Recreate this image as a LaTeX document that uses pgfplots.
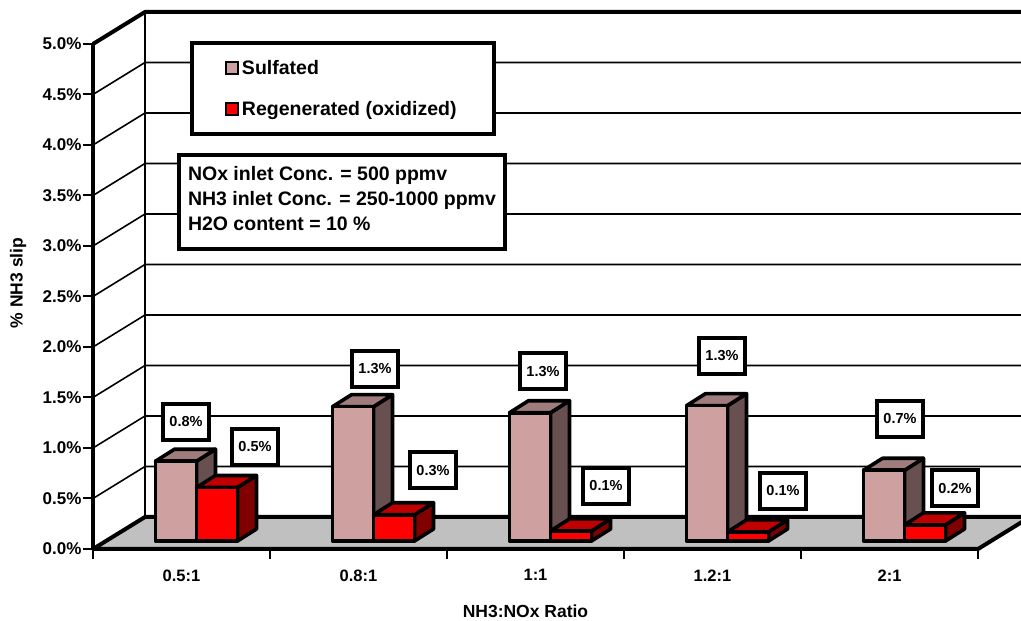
\documentclass[border=0pt]{standalone}
\usepackage{pgfplots}
\pgfplotsset{compat=1.18}
\usepackage{pgfplotstable}
\usepackage{fontspec}
\setmainfont{Liberation Sans}

\definecolor{sulfFront}{RGB}{207,160,160}
\definecolor{sulfTop}{RGB}{160,124,124}
\definecolor{sulfSide}{RGB}{104,80,80}
\definecolor{regFront}{RGB}{255,0,0}
\definecolor{regTop}{RGB}{192,0,0}
\definecolor{regSide}{RGB}{128,0,0}
\definecolor{floorgray}{RGB}{192,192,192}

\newcommand\labelfont{\bfseries\fontsize{14.5}{15}\selectfont}
\newcommand\tickfont{\bfseries\fontsize{17}{18}\selectfont}
\newcommand\boxfont{\bfseries\fontsize{19.5}{25}\selectfont}
\newcommand\legstrut{\rule[-6pt]{0pt}{20pt}}

\pgfdeclareplotmark{nothing}{}

% NH3 slip (%) per NH3:NOx ratio; slx/sly and rlx/rly place the value boxes (pt)
\pgfplotstableread{
pos  sulf  regen  slx   sly   rlx   rly
0.5  0.79  0.53    4.5  47.2  73.5  48.5
1.5  1.33  0.26   16.5  45.7  74.5  52.7
2.5  1.27  0.10    7.5  49.7  70.5  52.9
3.5  1.34  0.09    9.5  57.7  70.5  48.9
4.5  0.70  0.16   10.5  59.3  65.5  44.8
}\slipdata

% one 3-D column: #1 value (%), #2/#3 left/right edge of the front face,
% #4 front, #5 top, #6 side colour, #7/#8 centre of the value box
\newcommand\drawcolumn[8]{%
  \pgfmathsetmacro\hb{8-101*#1}%
  \pgfmathsetmacro\hbb{\hb+12}%
  \pgfmathsetmacro\xl{#2}\pgfmathsetmacro\xr{#3}%
  \pgfmathsetmacro\xlb{#2+19}\pgfmathsetmacro\xrb{#3+19}%
  \begin{scope}[line width=3.6pt, line join=round, draw=black]
    \filldraw[fill=#6] (\xr pt,\hb pt) -- (\xrb pt,\hbb pt) -- (\xrb pt,20pt) -- (\xr pt,8pt) -- cycle;
    \filldraw[fill=#5] (\xl pt,8pt) -- (\xr pt,8pt) -- (\xrb pt,20pt) -- (\xlb pt,20pt) -- cycle;
    \filldraw[fill=#4] (\xl pt,\hb pt) rectangle (\xr pt,8pt);
  \end{scope}
  \node[draw=black, line width=3.6pt, fill=white, inner sep=0pt,
        minimum width=46pt, minimum height=36pt, font=\labelfont]
    at (#7pt,#8pt) {\pgfmathprintnumber[fixed,fixed zerofill,precision=1,assume math mode=true]{#1}\%};%
}

\begin{document}
\begin{tikzpicture}
\useasboundingbox (-93pt,-72pt) rectangle (928pt,549pt);
\clip (-93pt,-72pt) rectangle (928pt,549pt);
\begin{axis}[
  x=177pt, y=101pt,
  xmin=0, xmax=5, ymin=0, ymax=5,
  clip=false,
  axis x line*=bottom, axis y line*=left,
  axis line style={line width=4pt, -},
  tick align=outside, major tick length=10pt,
  tick style={line width=2pt, black},
  xtick={0,1,2,3,4,5}, xticklabels={},
  extra x ticks={0.5,1.5,2.5,3.5,4.5},
  extra x tick labels={0.5:1,0.8:1,1:1,1.2:1,2:1},
  extra x tick style={major tick length=0pt,
    xticklabel style={font=\bfseries\fontsize{16.5}{18}\selectfont, yshift=-17pt}},
  ytick={0,0.5,1,1.5,2,2.5,3,3.5,4,4.5,5},
  yticklabel={\pgfmathprintnumber[fixed,fixed zerofill,precision=1,assume math mode=true]{\tick}\%},
  yticklabel style={font=\tickfont, xshift=2pt},
  xlabel={NH3:NOx Ratio},
  xlabel style={at={(axis description cs:0.4887,-0.1228)}, anchor=center,
    font=\bfseries\fontsize{17.5}{18}\selectfont},
  ylabel={\% NH3 slip},
  ylabel style={at={(axis description cs:-0.0847,0.5267)}, anchor=center,
    font=\bfseries\fontsize{17.5}{18}\selectfont},
  legend style={at={(axis cs:0.548,5.03)}, anchor=north west, draw=black,
    line width=4pt, fill=white, inner xsep=0pt, inner ysep=17.5pt,
    row sep=25pt, column sep=0pt,
    nodes={inner sep=0pt}, font=\boxfont},
  legend cell align=left,
]
% floor
\filldraw[fill=floorgray, line width=4pt, line join=round]
  (axis cs:0,0) -- (axis cs:5,0) -- ([shift={(52pt,32pt)}]axis cs:5,0)
  -- ([shift={(52pt,32pt)}]axis cs:0,0) -- cycle;
% side and back wall grid
\pgfplotsinvokeforeach{0.5,1,1.5,2,2.5,3,3.5,4,4.5}{
  \draw[line width=1.6pt] (axis cs:0,#1) -- ([shift={(52pt,32pt)}]axis cs:0,#1)
    -- ([shift={(52pt,32pt)}]axis cs:5.3,#1);
}
\draw[line width=2.6pt] ([shift={(52pt,32pt)}]axis cs:0,0) -- ([shift={(52pt,32pt)}]axis cs:0,5);
\draw[line width=4pt, line join=round] (axis cs:0,5) -- ([shift={(52pt,32pt)}]axis cs:0,5)
  -- ([shift={(52pt,32pt)}]axis cs:5.3,5);

\addplot[scatter, only marks, mark=nothing,
  visualization depends on={\thisrow{sulf} \as \val},
  visualization depends on={\thisrow{slx} \as \lx},
  visualization depends on={\thisrow{sly} \as \ly},
  scatter/@pre marker code/.code={\drawcolumn{\val}{-26}{15}{sulfFront}{sulfTop}{sulfSide}{\lx}{\ly}},
  scatter/@post marker code/.code={},
  legend image code/.code={\path[draw=none, fill=none] (0pt,-7pt) rectangle (50pt,7pt);
    \filldraw[fill=sulfFront, draw=black, line width=2pt] (34pt,-6pt) rectangle (46pt,6pt);}]
  table[x=pos, y=sulf] {\slipdata};
\addlegendentry{\legstrut\makebox[252pt][l]{Sulfated}}

\addplot[scatter, only marks, mark=nothing,
  visualization depends on={\thisrow{regen} \as \val},
  visualization depends on={\thisrow{rlx} \as \lx},
  visualization depends on={\thisrow{rly} \as \ly},
  scatter/@pre marker code/.code={\drawcolumn{\val}{15}{56}{regFront}{regTop}{regSide}{\lx}{\ly}},
  scatter/@post marker code/.code={},
  legend image code/.code={\path[draw=none, fill=none] (0pt,-7pt) rectangle (50pt,7pt);
    \filldraw[fill=regFront, draw=black, line width=2pt] (34pt,-6pt) rectangle (46pt,6pt);}]
  table[x=pos, y=regen] {\slipdata};
\addlegendentry{\legstrut\makebox[252pt][l]{Regenerated (oxidized)}}

\node[draw=black, line width=4pt, fill=white, anchor=north west, align=left,
      inner xsep=9pt, inner ysep=11pt, font=\boxfont]
  at (axis cs:0.4746,3.92)
  {NOx inlet Conc. = 500 ppmv\\NH3 inlet Conc. = 250-1000 ppmv\\H2O content = 10 \%\strut};
\end{axis}
\end{tikzpicture}
\end{document}
